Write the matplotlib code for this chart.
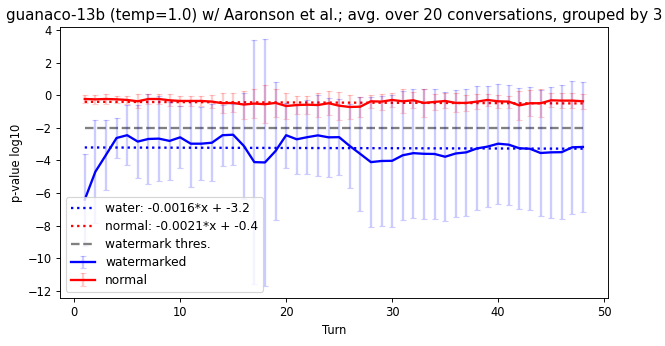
import numpy as np
import matplotlib
matplotlib.use('Agg')
import matplotlib.pyplot as plt

# turns (grouped by 3)
turns = list(range(1, 49))

# watermarked conversations: mean log10 p-value and error
water_mean = [-6.4, -4.69, -3.66, -2.62, -2.45, -2.84, -2.68, -2.66, -2.8, -2.58,
              -2.97, -2.97, -2.91, -2.45, -2.42, -3.1, -4.1, -4.12, -3.42, -2.45,
              -2.7, -2.57, -2.46, -2.58, -2.57, -3.11, -3.6, -4.1, -4.03, -4.02,
              -3.68, -3.55, -3.59, -3.6, -3.77, -3.57, -3.5, -3.26, -3.15, -2.97,
              -3.03, -3.25, -3.28, -3.54, -3.5, -3.49, -3.19, -3.17]
water_err = [2.82, 3.15, 2.15, 1.2, 1.84, 2.25, 2.78, 2.6, 2.4, 1.9,
             2.66, 2.25, 2.37, 1.87, 1.86, 3.25, 7.46, 7.55, 4.22, 2.0,
             2.1, 2.25, 2.5, 2.43, 2.35, 2.58, 3.5, 3.98, 3.99, 4.03,
             3.97, 3.96, 3.99, 3.96, 3.97, 3.89, 3.89, 3.8, 3.71, 3.68,
             3.68, 3.7, 3.76, 3.89, 4.0, 4.09, 4.07, 3.99]

# normal conversations
normal_mean = [-0.23, -0.25, -0.23, -0.25, -0.29, -0.37, -0.23, -0.23, -0.31, -0.35,
               -0.35, -0.35, -0.39, -0.49, -0.47, -0.57, -0.51, -0.55, -0.47, -0.66,
               -0.6, -0.58, -0.6, -0.49, -0.64, -0.72, -0.7, -0.37, -0.39, -0.29,
               -0.37, -0.31, -0.47, -0.41, -0.35, -0.47, -0.47, -0.39, -0.29, -0.37,
               -0.39, -0.62, -0.49, -0.49, -0.31, -0.33, -0.33, -0.37]
normal_err = [0.26, 0.27, 0.28, 0.22, 0.26, 0.43, 0.31, 0.29, 0.36, 0.3,
              0.3, 0.3, 0.38, 0.61, 0.58, 0.86, 0.9, 1.16, 0.87, 0.8,
              0.55, 0.56, 0.75, 0.75, 0.85, 0.72, 0.62, 0.4, 0.49, 0.4,
              0.74, 0.49, 0.87, 0.48, 0.46, 0.58, 0.48, 0.45, 0.39, 0.41,
              0.37, 0.9, 0.79, 0.86, 0.43, 0.48, 0.48, 0.46]

# linear fits (slope, intercept) and detection threshold
water_fit = (-0.0016, -3.2)
normal_fit = (-0.0021, -0.4)
thres = -2

x = np.array(turns)

fig = plt.figure(figsize=(8, 346 / 83.125), dpi=83.125)
plt.subplots_adjust(left=0.090, right=0.914, top=0.922, bottom=0.139)

plt.plot(x, water_fit[0] * x + water_fit[1], ':', color='blue', linewidth=2,
         label=f'water: {water_fit[0]}*x + {water_fit[1]}')
plt.plot(x, normal_fit[0] * x + normal_fit[1], ':', color='red', linewidth=2,
         label=f'normal: {normal_fit[0]}*x + {normal_fit[1]}')
plt.plot(x, [thres] * len(x), '--', color='gray', linewidth=2, label='watermark thres.')

plt.errorbar(x, water_mean, yerr=water_err, color='blue', linewidth=2,
             ecolor=(0, 0, 1, 0.2), capsize=3, label='watermarked')
plt.errorbar(x, normal_mean, yerr=normal_err, color='red', linewidth=2,
             ecolor=(1, 0, 0, 0.2), capsize=3, label='normal')

plt.xlabel('Turn')
plt.ylabel('p-value log10')
plt.title('guanaco-13b (temp=1.0) w/ Aaronson et al.; avg. over 20 conversations, grouped by 3',
          fontsize=13)
plt.legend(loc='lower left', fontsize=10.6, labelspacing=0.4)
plt.savefig('out.png', dpi=83.125)
